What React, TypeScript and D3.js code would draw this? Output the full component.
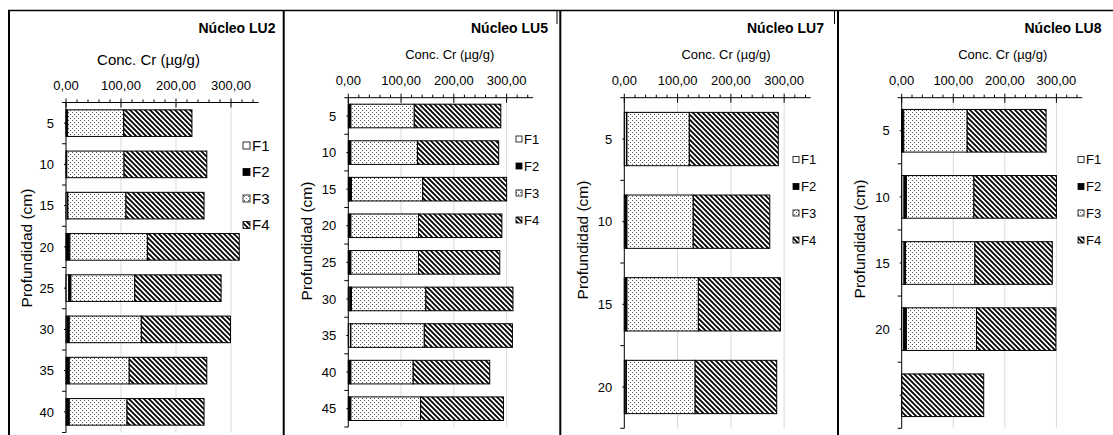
import React from "react";
import * as d3 from "d3";

// ---------- DATA ----------
const fractions = ["F1", "F2", "F3", "F4"];
const xTickValues = [0, 100, 200, 300];

const lu2Depths = ["5", "10", "15", "20", "25", "30", "35", "40"];
const lu2F1 = [0.5, 0.5, 3, 1, 5, 2, 1, 1];
const lu2F2 = [2.5, 1, 0.5, 6, 4, 4, 5, 5];
const lu2F3 = [102, 104, 105.5, 141, 116, 131, 109, 105];
const lu2F4 = [124, 150.5, 142, 167, 157, 162, 141, 140];

const lu5Depths = ["5", "10", "15", "20", "25", "30", "35", "40", "45"];
const lu5F1 = [1, 1, 2, 1, 1, 3, 4, 1, 1];
const lu5F2 = [4, 4, 4, 4, 4, 3, 1, 4, 4];
const lu5F3 = [120, 126, 135, 128, 128, 141, 139, 118, 132];
const lu5F4 = [164, 154, 159, 158, 154, 165, 167, 145, 157];

const lu7Depths = ["5", "10", "15", "20"];
const lu7F1 = [4, 2, 2, 3];
const lu7F2 = [1, 3, 3, 1];
const lu7F3 = [117, 124.4, 134, 129];
const lu7F4 = [167, 143.6, 154, 153];

const lu8Depths = ["5", "10", "15", "20", ""];
const lu8F1 = [0.5, 4.5, 4.5, 4, 0];
const lu8F2 = [3.5, 4.5, 3, 5, 0];
const lu8F3 = [123, 131, 134.5, 136, 0];
const lu8F4 = [153, 160, 150, 154, 159];

const panelTitles = ["Núcleo LU2", "Núcleo LU5", "Núcleo LU7", "Núcleo LU8"];
const xAxisTitle = "Conc. Cr (µg/g)";
const yAxisTitle = "Profundidad (cm)";

// ---------- LAYOUT ----------
type Layout = {
  frameX: number;
  x0: number;
  xEnd: number;
  yTop: number;
  yBot: number;
  titleRight: number;
  concX: number;
  concY: number;
  concSize: number;
  tickY: number;
  yLabX: number;
  yLabY: number;
  legX: number;
  legYs: number[];
  legSize: number;
  legFont: number;
};

const layouts: Layout[] = [
  { frameX: 9, x0: 66, xEnd: 258.5, yTop: 102.5, yBot: 432.5, titleRight: 275.5, concX: 148.5, concY: 65, concSize: 15, tickY: 90, yLabX: 32, yLabY: 248, legX: 243, legYs: [145.5, 172, 198.5, 225], legSize: 7, legFont: 15 },
  { frameX: 283.7, x0: 348.3, xEnd: 533, yTop: 97.7, yBot: 427, titleRight: 548, concX: 449.7, concY: 58.5, concSize: 13, tickY: 85, yLabX: 311.5, yLabY: 241, legX: 516, legYs: [139, 166, 193, 220], legSize: 6, legFont: 13 },
  { frameX: 560.3, x0: 624.3, xEnd: 810.8, yTop: 97.7, yBot: 428.3, titleRight: 824, concX: 726, concY: 58.5, concSize: 13, tickY: 85, yLabX: 588, yLabY: 240, legX: 793, legYs: [159.5, 186.5, 213, 240], legSize: 6, legFont: 13 },
  { frameX: 838, x0: 901.7, xEnd: 1082.2, yTop: 97.7, yBot: 428.3, titleRight: 1101.5, concX: 1002.7, concY: 58.5, concSize: 13, tickY: 85, yLabX: 865, yLabY: 239, legX: 1078, legYs: [159.5, 186.5, 213, 240], legSize: 6, legFont: 13 },
];

const panelData = [
  { depths: lu2Depths, series: [lu2F1, lu2F2, lu2F3, lu2F4] },
  { depths: lu5Depths, series: [lu5F1, lu5F2, lu5F3, lu5F4] },
  { depths: lu7Depths, series: [lu7F1, lu7F2, lu7F3, lu7F4] },
  { depths: lu8Depths, series: [lu8F1, lu8F2, lu8F3, lu8F4] },
];

const fills = ["#ffffff", "#000000", "url(#dots)", "url(#hatch)"];
const FONT = "'Liberation Sans', Arial, Helvetica, sans-serif";
const fmt = d3.formatLocale({ decimal: ",", thousands: ".", grouping: [3], currency: ["", ""] }).format(".2f");

function Panel({ idx }: { idx: number }) {
  const L = layouts[idx];
  const D = panelData[idx];
  const x = d3.scaleLinear().domain([0, 350]).range([L.x0, L.xEnd]);
  const keys = D.depths.map((_, i) => String(i));
  const y = d3
    .scaleBand<string>()
    .domain(keys)
    .range([L.yTop, L.yBot])
    .paddingInner(0.355)
    .paddingOuter(0.1775);
  const step = y.step();

  const rows = D.depths.map((_, i) => ({ i, vals: D.series.map((s) => s[i]) }));
  const stack = d3
    .stack<{ i: number; vals: number[] }, number>()
    .keys([0, 1, 2, 3])
    .value((d, k) => d.vals[k])(rows);

  const minorTicks = d3.range(0, 341, 20).filter((v) => v % 100 !== 0);

  return (
    <g>
      {/* grid */}
      {xTickValues.filter((v) => v > 0).map((v) => (
        <line key={"g" + v} x1={x(v)} x2={x(v)} y1={L.yTop} y2={L.yBot} stroke="#d9d9d9" strokeWidth={1} />
      ))}
      {/* bars */}
      {stack.map((layer, k) =>
        layer.map((seg, i) => {
          const w = x(seg[1]) - x(seg[0]);
          if (w <= 0) return null;
          return (
            <rect
              key={`b${k}-${i}`}
              x={x(seg[0])}
              y={y(String(i))}
              width={w}
              height={y.bandwidth()}
              fill={fills[k]}
              stroke="#000"
              strokeWidth={1}
            />
          );
        })
      )}
      {/* x axis (top) */}
      <line x1={L.x0} x2={L.xEnd} y1={L.yTop} y2={L.yTop} stroke="#000" strokeWidth={1} />
      {xTickValues.map((v) => (
        <g key={"t" + v}>
          <line x1={x(v)} x2={x(v)} y1={L.yTop - 4} y2={L.yTop + 5} stroke="#000" strokeWidth={1} />
          <text x={x(v)} y={L.tickY} textAnchor="middle" fontSize={13} fontFamily={FONT} fill="#000">
            {fmt(v)}
          </text>
        </g>
      ))}
      {minorTicks.map((v) => (
        <line key={"m" + v} x1={x(v)} x2={x(v)} y1={L.yTop - 3} y2={L.yTop} stroke="#000" strokeWidth={1} />
      ))}
      {/* y axis */}
      <line x1={L.x0} x2={L.x0} y1={L.yTop} y2={L.yBot} stroke="#000" strokeWidth={1} />
      {d3.range(keys.length + 1).map((k) => (
        <line key={"yb" + k} x1={L.x0 - 4} x2={L.x0} y1={L.yTop + k * step} y2={L.yTop + k * step} stroke="#000" strokeWidth={1} />
      ))}
      {keys.map((kk, i) => (
        <g key={"yl" + i}>
          <line x1={L.x0 - 2} x2={L.x0} y1={(y(kk) as number) + y.bandwidth() / 2} y2={(y(kk) as number) + y.bandwidth() / 2} stroke="#000" strokeWidth={1} />
          <text
            x={L.x0 - 12}
            y={(y(kk) as number) + y.bandwidth() / 2}
            dy="0.36em"
            textAnchor="end"
            fontSize={13}
            fontFamily={FONT}
            fill="#000"
          >
            {D.depths[i]}
          </text>
        </g>
      ))}
      {/* titles */}
      <text x={L.titleRight} y={33.3} textAnchor="end" fontSize={14} fontWeight="bold" fontFamily={FONT} fill="#000">
        {panelTitles[idx]}
      </text>
      <text x={L.concX} y={L.concY} textAnchor="middle" fontSize={L.concSize} fontFamily={FONT} fill="#000">
        {xAxisTitle}
      </text>
      <text transform={`translate(${L.yLabX},${L.yLabY}) rotate(-90)`} textAnchor="middle" fontSize={15.5} fontFamily={FONT} fill="#000">
        {yAxisTitle}
      </text>
      {/* legend */}
      {fractions.map((f, k) => (
        <g key={"lg" + f}>
          <rect
            x={L.legX}
            y={L.legYs[k] - L.legSize / 2}
            width={L.legSize}
            height={L.legSize}
            fill={fills[k]}
            stroke="#000"
            strokeWidth={0.8}
          />
          <text x={L.legX + L.legSize + 2} y={L.legYs[k]} dy="0.36em" fontSize={L.legFont} fontFamily={FONT} fill="#000">
            {f}
          </text>
        </g>
      ))}
      {/* frame left border */}
      <line x1={L.frameX} x2={L.frameX} y1={10} y2={435} stroke="#000" strokeWidth={2} />
    </g>
  );
}

export default function App() {
  return (
    <svg width={1113} height={435} style={{ position: "fixed", left: 0, top: 0, background: "#fff" }}>
      <defs>
        <pattern id="dots" width={4} height={4} patternUnits="userSpaceOnUse">
          <rect width={4} height={4} fill="#fff" />
          <rect x={0} y={0} width={1} height={1} fill="#555" />
          <rect x={2} y={2} width={1} height={1} fill="#555" />
        </pattern>
        <pattern id="hatch" width={5} height={5} patternUnits="userSpaceOnUse">
          <rect width={5} height={5} fill="#fff" />
          <path d="M-1,-1 L6,6 M-1,4 L1,6 M4,-1 L6,1" stroke="#000" strokeWidth={1.8} />
        </pattern>
      </defs>
      <rect width={1113} height={435} fill="#fff" />
      <line x1={8} x2={1113} y1={10.5} y2={10.5} stroke="#000" strokeWidth={1.5} />
      <line x1={557} x2={557} y1={10} y2={24} stroke="#000" strokeWidth={1} />
      <line x1={834.5} x2={834.5} y1={10} y2={24} stroke="#000" strokeWidth={1} />
      {layouts.map((_, i) => (
        <Panel key={i} idx={i} />
      ))}
    </svg>
  );
}
